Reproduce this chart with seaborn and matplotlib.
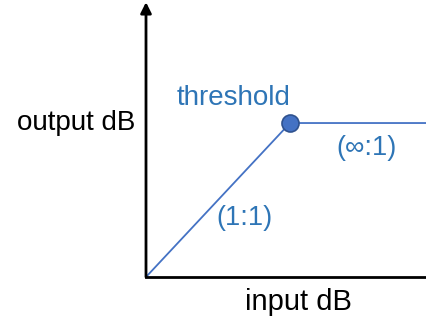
import seaborn as sns
import pandas as pd
import matplotlib.pyplot as plt

# transfer curve of a limiter: 1:1 below threshold, flat above
input_db = [0.0, 1.0, 1.951]
output_db = [0.0, 1.0, 1.0]
threshold_in = [1.0]
threshold_out = [1.0]
labels = ['threshold', '(1:1)', '(\u221e:1)']

sns.set_style('white')
plt.rcParams['font.family'] = ['Liberation Sans', 'DejaVu Sans']

curve = pd.DataFrame({'input': input_db, 'output': output_db})
thr = pd.DataFrame({'input': threshold_in, 'output': threshold_out})

fig = plt.figure(figsize=(4.27, 3.23), dpi=100)
ax = fig.add_axes([146 / 427, 46 / 323, 281 / 427, 277 / 323])

line_c = '#4472C4'
text_c = '#2E75B6'

sns.lineplot(data=curve, x='input', y='output', ax=ax, color=line_c, lw=1.3, sort=False)
sns.scatterplot(data=thr, x='input', y='output', ax=ax, color=line_c, s=150,
                edgecolor='#2F528F', linewidth=1.2, zorder=5, clip_on=False)

ax.set_xlim(0, 1.951)
ax.set_ylim(0, 1.799)
ax.set_xticks([])
ax.set_yticks([])

for side in ['top', 'right', 'left']:
    ax.spines[side].set_visible(False)
ax.spines['bottom'].set_color('black')
ax.spines['bottom'].set_linewidth(2)

# vertical axis with an arrow head
ax.annotate('', xy=(0, 1.785), xytext=(0, 0),
            arrowprops=dict(arrowstyle='-|>', lw=2, color='black', mutation_scale=16,
                            shrinkA=0, shrinkB=0),
            annotation_clip=False)

ax.text(0.611, 1.162, labels[0], color=text_c, fontsize=20, ha='center', va='center')
ax.text(0.681, 0.383, labels[1], color=text_c, fontsize=19.5, ha='center', va='center')
ax.text(1.528, 0.838, labels[2], color=text_c, fontsize=19.5, ha='center', va='center')

ax.set_xlabel('input dB', fontsize=21, color='black')
ax.set_ylabel('output dB', fontsize=20, color='black', rotation=0)
ax.xaxis.label.set_va('center')
ax.yaxis.label.set_va('center')
ax.yaxis.label.set_ha('center')
ax.xaxis.set_label_coords(0.541, -0.090)
ax.yaxis.set_label_coords(-0.249, 0.556)

fig.savefig('out.png', dpi=100)
